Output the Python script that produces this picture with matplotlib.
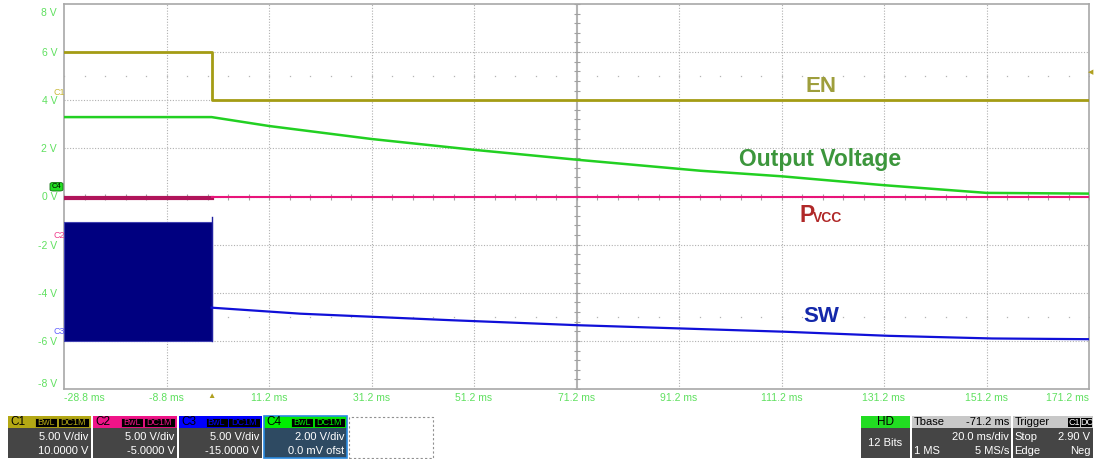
import numpy as np
import matplotlib
matplotlib.use("Agg")
from matplotlib import pyplot as plt
from matplotlib.patches import Rectangle, FancyBboxPatch
import matplotlib.transforms as mtransforms

plt.rcParams['font.family'] = ['Liberation Sans', 'DejaVu Sans']

# ---- data (time in ms, voltage on screen scale) ----
en_t = [-28.8, 0.0, 0.0, 171.2]
en_v = [6.0, 6.0, 4.03, 4.03]

vout_t = [-28.8, 0.0, 11.2, 31.2, 51.2, 71.2, 95.4, 111.2, 131.2, 151.2, 171.2]
vout_v = [3.3, 3.3, 2.93, 2.39, 1.94, 1.53, 1.07, 0.84, 0.47, 0.15, 0.12]

pvcc_on_t = [-28.8, 0.0]
pvcc_on_v = [-0.05, -0.05]
pvcc_off_t = [0.0, 171.2]
pvcc_off_v = [0.0, 0.0]

sw_burst_t = [-28.8, 0.0]
sw_burst_hi = -1.08
sw_burst_lo = -6.0
sw_spike = -0.87
sw_t = [0.0, 17.3, 46.6, 71.6, 111.8, 132.1, 152.3, 171.2]
sw_v = [-4.62, -4.87, -5.14, -5.35, -5.62, -5.79, -5.90, -5.93]

xticks = [-28.8 + 20 * i for i in range(11)]
yticks = [-8, -6, -4, -2, 0, 2, 4, 6, 8]

W, H = 1094, 459
fig = plt.figure(figsize=(W / 100, H / 100), dpi=100)
fig.patch.set_facecolor('white')

def fx(x):
    return x / W

def fy(y):
    return 1 - y / H

ax = fig.add_axes([fx(64), fy(389), (1089 - 64) / W, (389 - 4) / H])
ax.set_xlim(-28.8, 171.2)
ax.set_ylim(-7.92, 8.0)
for s in ax.spines.values():
    s.set_color('#a8a8a8')
    s.set_linewidth(1.2)

# grid
grid_col = '#b0b0b0'
for xv in xticks[1:-1]:
    if abs(xv - 71.2) < 0.01:
        continue
    ax.axvline(xv, color=grid_col, lw=0.8, ls=(0, (1, 1.5)), zorder=0)
for yv in yticks[1:-1]:
    ax.axhline(yv, color=grid_col, lw=0.8, ls=(0, (1, 1.5)), zorder=0)
ax.axvline(71.2, color='#b4b4b4', lw=1.5, zorder=0)
# minor ticks on centre lines
mt = np.arange(-28.8, 171.3, 4.0)
ax.plot(mt, np.zeros_like(mt), ls='none', marker='|', ms=4, mew=0.8, color='#a0a0a0', zorder=0)
ax.plot(mt, np.full_like(mt, 5.0), ls='none', marker='s', ms=0.9, mew=0, color='#b4b4b4', zorder=0)
ax.plot(mt, np.full_like(mt, -5.0), ls='none', marker='s', ms=0.9, mew=0, color='#b4b4b4', zorder=0)
mv = np.arange(-8, 8.01, 0.4)
ax.plot(np.full_like(mv, 71.2), mv, ls='none', marker='_', ms=4, mew=0.8, color='#a0a0a0', zorder=0)

# traces
ax.plot(en_t, en_v, color='#a49c14', lw=2.0, zorder=3)
ax.plot(vout_t, vout_v, color='#22d022', lw=1.8, zorder=4)
ax.plot(pvcc_on_t, pvcc_on_v, color='#b0145a', lw=3.0, zorder=3)
ax.plot(pvcc_off_t, pvcc_off_v, color='#e8147a', lw=1.5, zorder=3)
ax.fill_between(sw_burst_t, sw_burst_lo, sw_burst_hi, color='#000080',
                edgecolor='#4040b0', lw=0.8, zorder=3)
ax.plot([0, 0], [sw_burst_lo, sw_spike], color='#2020a0', lw=1.0, zorder=3)
ax.plot(sw_t, sw_v, color='#1010d8', lw=1.6, zorder=3)

# tick labels
lab_col = '#5fe05f'
ax.set_xticks(xticks)
ax.set_xticklabels([f"{v:.1f} ms" for v in xticks])
ax.set_yticks(yticks)
ax.set_yticklabels([f"{v} V" for v in yticks])
ax.tick_params(length=0, colors=lab_col, labelsize=7.5)
ax.tick_params(axis='x', pad=3)
ax.tick_params(axis='y', pad=5)
xl = ax.get_xticklabels()
xl[0].set_ha('left')
xl[-1].set_ha('right')
yl = ax.get_yticklabels()
yl[0].set_va('bottom')
yl[-1].set_va('top')
yl[-1].set_transform(yl[-1].get_transform() +
                     mtransforms.ScaledTranslation(0, -4 / 100, fig.dpi_scale_trans))

# annotations
ax.text(118.9, 4.34, 'EN', color='#9e9e3c', fontsize=16, fontweight='bold',
        ha='center', va='baseline')
ax.text(103.0, 1.28, 'Output Voltage', color='#3c963c', fontsize=16.5,
        fontweight='bold', ha='left', va='baseline')
ax.text(114.8, -1.04, 'P', color='#b02828', fontsize=16.5, fontweight='bold',
        ha='left', va='baseline')
off = mtransforms.offset_copy(ax.transData, fig=fig, x=13, y=0, units='dots')
ax.text(114.8, -1.04, 'VCC', color='#b02828', fontsize=10, fontweight='bold',
        ha='left', va='baseline', transform=off)
ax.text(115.5, -5.23, 'SW', color='#1428aa', fontsize=16, fontweight='bold',
        ha='left', va='baseline')

# channel markers at the left edge
fig.text(fx(53), fy(87.5), 'C1', color='#c8b838', fontsize=6.5, ha='left', va='top')
fig.text(fx(53), fy(230.5), 'C2', color='#f03c8c', fontsize=6.5, ha='left', va='top')
fig.text(fx(53), fy(326.5), 'C3', color='#6060ff', fontsize=6.5, ha='left', va='top')
fig.patches.append(FancyBboxPatch((fx(50), fy(191)), fx(13), 8.5 / H,
                                  boxstyle='round,pad=0,rounding_size=0.003',
                                  fc='#22dd22', ec='#107010', lw=0.6,
                                  transform=fig.transFigure))
fig.text(fx(56.5), fy(186.8), 'C4', color='black', fontsize=5.5, ha='center', va='center')
# trigger markers
fig.text(fx(211), fy(396), '\u25b2', color='#b0a020', fontsize=6, ha='center', va='center')
fig.text(fx(1091), fy(73), '\u25c0', color='#b0a020', fontsize=5, ha='center', va='center')


# ---- status bar ----
def rect(x0, y0, x1, y1, fc, ec='none', lw=0, ls='-'):
    fig.patches.append(Rectangle((fx(x0), fy(y1)), fx(x1 - x0), (y1 - y0) / H,
                                 fc=fc, ec=ec, lw=lw, ls=ls,
                                 transform=fig.transFigure))

def tag(x0, x1, txt, col):
    rect(x0, 417.5, x1, 426.5, 'black', ec=col, lw=0.6)
    fig.text(fx((x0 + x1) / 2), fy(422.3), txt, color=col, fontsize=6.5,
             ha='center', va='center')

def txt(x, y, s, ha='right', col='white', size=8):
    fig.text(fx(x), fy(y), s, color=col, fontsize=size, ha=ha, va='center')

channels = [
    (7.5, 90.5, '#b4a814', 'C1', '5.00 V/div', '10.0000 V', '#454545'),
    (92.5, 176.5, '#f01488', 'C2', '5.00 V/div', '-5.0000 V', '#454545'),
    (178.5, 261.5, '#0000ff', 'C3', '5.00 V/div', '-15.0000 V', '#454545'),
    (263.5, 346.5, '#00ee00', 'C4', '2.00 V/div', '0.0 mV ofst', '#2e4a62'),
]
for x0, x1, hc, name, l1, l2, bc in channels:
    rect(x0, 416, x1, 428, hc)
    rect(x0, 428, x1, 457.5, bc)
    txt(x0 + 3, 422.3, name, ha='left', col='black', size=8.5)
    tag(x1 - 56, x1 - 34, 'BwL', hc)
    tag(x1 - 33, x1 - 1.5, 'DC1M', hc)
    txt(x1 - 2, 437.5, l1)
    txt(x1 - 2, 450.5, l2)
rect(263.5, 416, 346.5, 457.5, 'none', ec='#2a8ae0', lw=1.2)
rect(348.5, 416.5, 432.5, 457.5, 'none', ec='#909090', lw=0.8, ls=(0, (2, 2)))

# HD box
rect(861, 416, 909.5, 428, '#22dd22')
rect(861, 428, 909.5, 457.5, '#454545')
txt(885, 422.3, 'HD', ha='center', col='black', size=8.5)
txt(885, 443.5, '12 Bits', ha='center')

# Tbase box
rect(911.5, 416, 1011, 428, '#c8c8c8')
rect(911.5, 428, 1011, 457.5, '#454545')
txt(913.5, 422.3, 'Tbase', ha='left', col='black')
txt(1009, 422.3, '-71.2 ms', col='black')
txt(1009, 437.5, '20.0 ms/div')
txt(913.5, 450.5, '1 MS', ha='left')
txt(1009, 450.5, '5 MS/s')

# Trigger box
rect(1012.5, 416, 1092.5, 428, '#c8c8c8')
rect(1012.5, 428, 1092.5, 457.5, '#454545')
txt(1014.5, 422.3, 'Trigger', ha='left', col='black')
rect(1068, 417.5, 1079.5, 426.5, 'black')
rect(1080.5, 417.5, 1092, 426.5, 'black')
txt(1073.8, 422.3, 'C1', ha='center', size=6.5)
txt(1086.3, 422.3, 'DC', ha='center', size=6.5)
txt(1014.5, 437.5, 'Stop', ha='left')
txt(1090.5, 437.5, '2.90 V')
txt(1014.5, 450.5, 'Edge', ha='left')
txt(1090.5, 450.5, 'Neg')

fig.savefig('out.png', dpi=100)
